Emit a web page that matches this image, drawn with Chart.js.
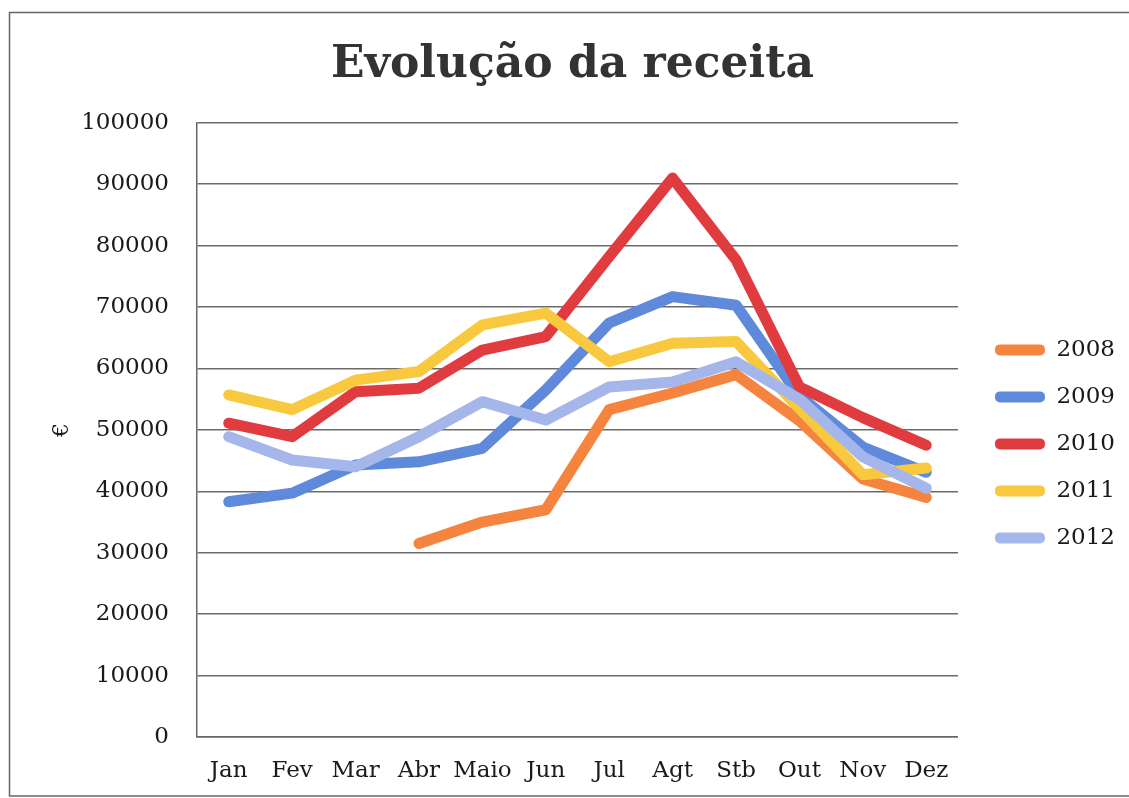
<!DOCTYPE html>
<html>
<head>
<meta charset="utf-8">
<script src="https://cdn.jsdelivr.net/npm/chart.js@4.4.1/dist/chart.umd.min.js"></script>
<style>
html,body{margin:0;padding:0;background:#fff;}
#wrap{width:1129px;height:798px;}
</style>
</head>
<body>
<div id="wrap"><canvas id="c" width="1129" height="798"></canvas></div>
<script>
const months = ['Jan','Fev','Mar','Abr','Maio','Jun','Jul','Agt','Stb','Out','Nov','Dez'];
const years = ['2008','2009','2010','2011','2012'];
const v2008 = [null,null,null,31500,35000,37000,53300,56000,59000,51500,42000,39000];
const v2009 = [38300,39700,44300,44800,47000,56500,67400,71700,70300,55500,47200,43100];
const v2010 = [51100,48900,56200,56800,63000,65200,78200,91000,77700,57000,52000,47500];
const v2011 = [55700,53300,58100,59500,67100,69000,61100,64100,64400,53500,42700,43800];
const v2012 = [48900,45100,44000,48900,54600,51600,57000,57800,61100,55000,45600,40500];
const yTicks = [0,10000,20000,30000,40000,50000,60000,70000,80000,90000,100000];

const seriesValues = [v2008, v2009, v2010, v2011, v2012];
const colors = ['#F5843F','#5F89DA','#E03C40','#F8C93E','#A5B6EA'];
const FONT = 'DejaVu Serif';

const framePlugin = {
  id: 'frame',
  beforeDraw(chart) {
    const ctx = chart.ctx;
    ctx.save();
    ctx.fillStyle = '#fff';
    ctx.fillRect(0, 0, chart.width, chart.height);
    ctx.strokeStyle = '#666';
    ctx.lineWidth = 1.5;
    ctx.strokeRect(9.5, 12.5, 1200, 783.5);
    ctx.restore();
  }
};

new Chart(document.getElementById('c'), {
  type: 'line',
  data: {
    labels: months,
    datasets: years.map((y, i) => ({
      label: y,
      data: seriesValues[i],
      borderColor: colors[i],
      backgroundColor: colors[i],
      borderWidth: 11,
      pointRadius: 0,
      pointHoverRadius: 0,
      tension: 0,
      borderJoinStyle: 'round',
      borderCapStyle: 'round',
      fill: false,
      order: years.length - 1 - i
    }))
  },
  options: {
    responsive: false,
    animation: false,
    events: [],
    layout: { padding: { left: 20, right: 4, top: 10, bottom: 10 } },
    plugins: {
      title: {
        display: true,
        text: 'Evolução da receita',
        color: '#333',
        font: { family: FONT, size: 44, weight: 'bold' },
        padding: { top: 29, bottom: 31 }
      },
      legend: {
        display: true,
        position: 'right',
        fullSize: false,
        align: 'center',
        title: { display: true, text: '', font: { size: 10 }, padding: { top: 0, bottom: 16 } },
        labels: {
          boxWidth: 50,
          boxHeight: 11,
          padding: 24,
          color: '#1a1a1a',
          font: { family: FONT, size: 23 },
          generateLabels(chart) {
            return chart.data.datasets.map((ds, i) => ({
              text: ds.label,
              fillStyle: ds.borderColor,
              strokeStyle: ds.borderColor,
              lineWidth: 0,
              borderRadius: 5,
              hidden: false,
              datasetIndex: i,
              fontColor: '#1a1a1a'
            }));
          }
        }
      },
      tooltip: { enabled: false }
    },
    scales: {
      x: {
        offset: true,
        grid: { display: false, drawTicks: false },
        border: { display: true, color: '#666', width: 1.5 },
        ticks: { color: '#1a1a1a', font: { family: FONT, size: 23 }, padding: 20, maxRotation: 0, autoSkip: false },
        afterFit(s) { s.height = 51; }
      },
      y: {
        min: 0,
        max: 100000,
        afterBuildTicks(s) { s.ticks = yTicks.map(v => ({ value: v })); },
        grid: { color: '#6b6b6b', lineWidth: 1.5, drawTicks: false },
        border: { display: true, color: '#666', width: 1.5 },
        ticks: { color: '#1a1a1a', font: { family: FONT, size: 23 }, padding: 28, callback: v => String(v) },
        title: { display: true, text: '€', color: '#1a1a1a', font: { family: FONT, size: 22 }, padding: { top: 29, bottom: 0 } },
        afterFit(s) { s.width = 177; }
      },
      gap: {
        position: 'right',
        display: true,
        grid: { display: false, drawTicks: false },
        border: { display: false },
        ticks: { display: false },
        afterFit(s) { s.width = 13; }
      }
    }
  },
  plugins: [framePlugin]
});
</script>
</body>
</html>
